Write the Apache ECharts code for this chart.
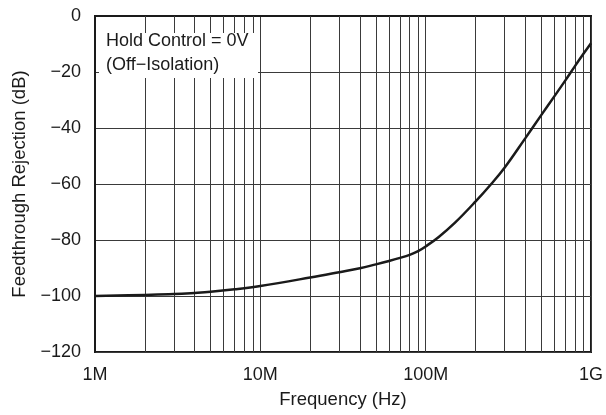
<!DOCTYPE html>
<html>
<head>
<meta charset="utf-8">
<style>
  html, body { margin: 0; padding: 0; background: #fff; }
  #chart { width: 606px; height: 415px; }
</style>
<script src="https://cdn.jsdelivr.net/npm/echarts@6/dist/echarts.min.js"></script>
</head>
<body>
<div id="chart"></div>
<script>
// Feedthrough rejection vs. frequency, hold control = 0 V
const freqHz = [1e6, 2e6, 3e6, 4e6, 5e6, 7e6, 1e7, 2e7, 3e7, 4e7, 5e7, 6e7, 7e7, 8e7, 9e7,
                1e8, 1.2e8, 1.5e8, 2e8, 2.5e8, 3e8, 4e8, 5e8, 6e8, 7e8, 8e8, 9e8, 1e9];
const rejectionDb = [-100, -99.6, -99.3, -98.9, -98.5, -97.6, -96.4, -93.4, -91.5, -90.1, -88.7, -87.5, -86.4, -85.3, -84.0,
                     -82.3, -78.9, -73.9, -66.3, -59.9, -54.2, -43.7, -35.4, -28.7, -23.0, -17.9, -13.5, -9.7];

const xTickValues = [1e6, 1e7, 1e8, 1e9];
const xTickLabels = ['1M', '10M', '100M', '1G'];

// intermediate decade lines (2..9 × each decade)
const minorFreqs = [];
for (let d = 1e6; d < 1e9; d *= 10) {
  for (let m = 2; m <= 9; m++) minorFreqs.push(m * d);
}

const FONT = '"Liberation Sans", Arial, Helvetica, sans-serif';
const INK = '#1a1a1a';
const GRIDC = '#3a3a3a';

const chart = echarts.init(document.getElementById('chart'), null, { renderer: 'canvas' });

chart.setOption({
  animation: false,
  backgroundColor: '#fff',
  grid: {
    left: 95, right: 14, top: 16, bottom: 63,
    show: true, borderColor: INK, borderWidth: 2, backgroundColor: 'transparent'
  },
  xAxis: {
    type: 'log',
    logBase: 10,
    min: xTickValues[0],
    max: xTickValues[xTickValues.length - 1],
    name: 'Frequency (Hz)',
    nameLocation: 'middle',
    nameGap: 38,
    nameTextStyle: { fontFamily: FONT, fontSize: 18.5, color: INK },
    axisLine: { show: true, lineStyle: { color: INK, width: 2 } },
    axisTick: { show: false },
    axisLabel: {
      margin: 14,
      fontFamily: FONT, fontSize: 18, color: INK,
      formatter: function (v) {
        const i = Math.round(Math.log10(v)) - 6;
        return xTickLabels[i] !== undefined ? xTickLabels[i] : '';
      }
    },
    splitLine: { show: true, lineStyle: { color: GRIDC, width: 1 } }
  },
  yAxis: {
    type: 'value',
    min: -120, max: 0, interval: 20,
    name: 'Feedthrough Rejection (dB)',
    nameLocation: 'middle',
    nameGap: 66,
    nameRotate: 90,
    nameTextStyle: { fontFamily: FONT, fontSize: 18.5, color: INK },
    axisLine: { show: true, lineStyle: { color: INK, width: 2 } },
    axisTick: { show: false },
    axisLabel: {
      margin: 14,
      fontFamily: FONT, fontSize: 18, color: INK,
      formatter: function (v) { return v < 0 ? '\u2212' + Math.abs(v) : String(v); }
    },
    splitLine: { show: true, lineStyle: { color: GRIDC, width: 1 } }
  },
  graphic: [
    {
      type: 'rect', z: 100,
      shape: { x: 99, y: 33, width: 159, height: 45 },
      style: { fill: '#fff' }
    },
    {
      type: 'text', z: 101, x: 106, y: 29,
      style: {
        text: 'Hold Control = 0V\n(Off\u2212Isolation)',
        font: '18px ' + FONT, fill: INK, lineHeight: 24
      }
    }
  ],
  series: [
    {
      // decade sub-divisions
      type: 'line',
      data: [],
      silent: true,
      z: 1,
      markLine: {
        silent: true,
        symbol: ['none', 'none'],
        label: { show: false },
        lineStyle: { color: GRIDC, width: 1, type: 'solid' },
        data: minorFreqs.map(f => ({ xAxis: f }))
      }
    },
    {
      type: 'line',
      data: freqHz.map((f, i) => [f, rejectionDb[i]]),
      smooth: 0.4,
      showSymbol: false,
      z: 10,
      lineStyle: { color: INK, width: 2.5 }
    }
  ]
});
</script>
</body>
</html>
